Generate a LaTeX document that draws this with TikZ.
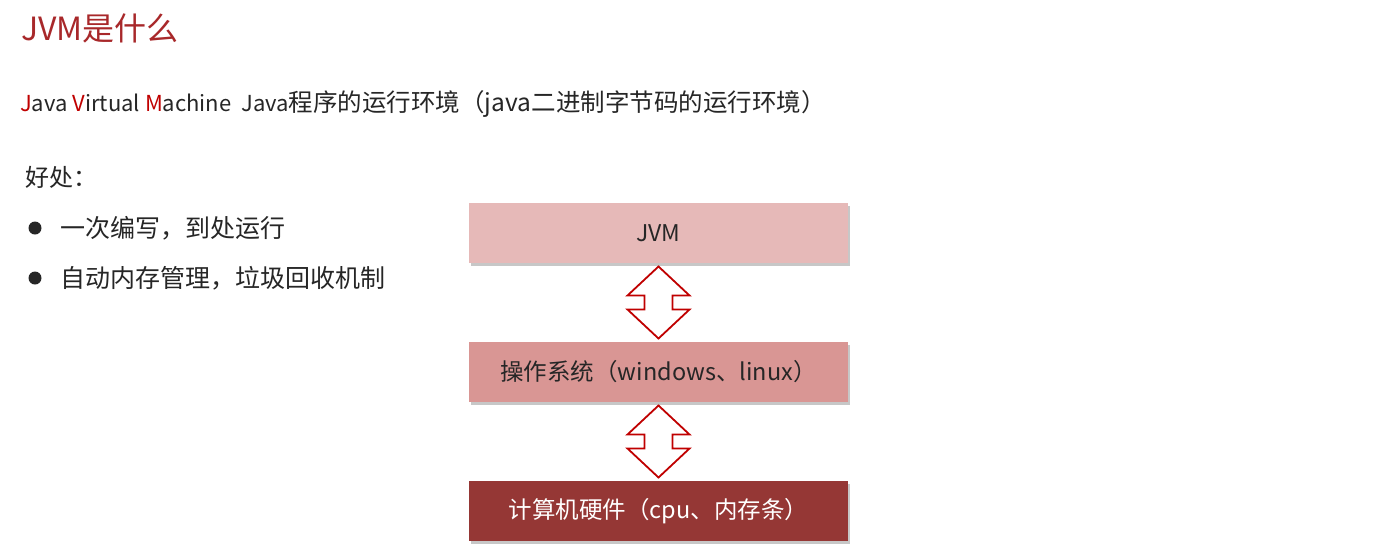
\documentclass[tikz,border=0pt]{standalone}
\usepackage{fontspec}
\setmainfont{Noto Sans CJK SC}
\usetikzlibrary{calc,shadows}
\definecolor{titlered}{HTML}{A8282A}
\definecolor{jred}{HTML}{C00000}
\definecolor{txt}{HTML}{262626}
\definecolor{boxa}{HTML}{E6B9B8}
\definecolor{boxb}{HTML}{D99694}
\definecolor{boxc}{HTML}{953735}
\definecolor{arrowred}{HTML}{C00000}
\tikzset{
  lbl/.style={anchor=west, inner sep=0pt, text=txt},
  layer/.style={rectangle, minimum width=379pt, minimum height=60pt, inner sep=0pt,
    drop shadow={shadow xshift=2pt, shadow yshift=-3pt, opacity=0.22, fill=black}},
  arrowline/.style={draw=arrowred, line width=1.8pt, fill=white, line join=miter},
  dblarr/.pic={\path[arrowline] (0,-36) -- (31,-7) -- (14,-7) -- (14,7) -- (31,7) -- (0,36)
     -- (-31,7) -- (-14,7) -- (-14,-7) -- (-31,-7) -- cycle;}
}
\newcommand{\fsz}[1]{\fontsize{#1pt}{#1pt}\selectfont}
\begin{document}
\begin{tikzpicture}[x=1pt,y=-1pt]
\useasboundingbox[fill=white] (0,0) rectangle (1381,555);
\node[lbl, text=titlered] (title) at (21,28) {\fsz{32}JVM是什么};
\node[lbl] (def) at (20,104) {\fsz{22}\textcolor{jred}{J}ava \textcolor{jred}{V}irtual \textcolor{jred}{M}achine\ \ Java\fsz{24.5}程序的运行环境（java二进制字节码的运行环境）};
\node[lbl] (adv) at (25,177) {\fsz{24}好处：};
\fill[txt] (35,228) circle (6.5);
\fill[txt] (35,278) circle (6.5);
\node[lbl] (b1) at (60,228) {\fsz{25}一次编写，到处运行};
\node[lbl] (b2) at (60,278) {\fsz{25}自动内存管理，垃圾回收机制};
\node[layer, fill=boxa, text=txt] (jvm) at (658.5,233) {\fsz{23}JVM};
\node[layer, fill=boxb, text=txt] (os) at (658.5,372) {\fsz{23.5}操作系统（windows、linux）};
\node[layer, fill=boxc, text=white] (hw) at (658.5,511) {\fsz{23.5}计算机硬件（cpu、内存条）};
\coordinate (a1) at ($(jvm.south)!0.5!(os.north)$);
\coordinate (a2) at ($(os.south)!0.5!(hw.north)$);
\pic at (a1) {dblarr};
\pic at (a2) {dblarr};
\end{tikzpicture}
\end{document}
